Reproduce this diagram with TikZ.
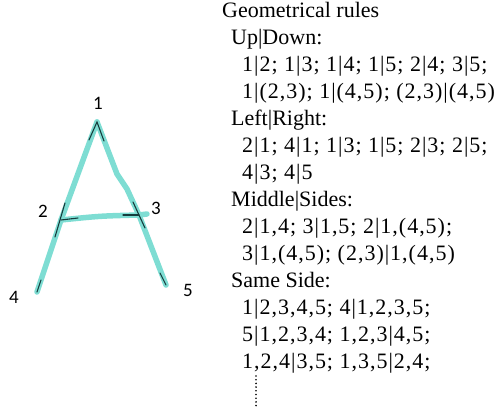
\documentclass[tikz,border=0pt]{standalone}
\usepackage{fontspec}
\setmainfont{Liberation Serif}
\newfontfamily\numfont{Liberation Serif}[LetterSpace=4.5]
\newfontfamily\labfont{Carlito}
\begin{document}
\begin{tikzpicture}[x=1pt,y=-1pt,
  stroke/.style={draw=tealA,line width=5.5pt,line cap=round,line join=round},
  skel/.style={draw=darkA,line width=1.1pt,line cap=round},
  vlab/.style={font=\labfont\fontsize{19}{19}\selectfont,inner sep=0pt},
  rule/.style={font=\fontsize{22}{22}\selectfont,anchor=base west,inner sep=0pt},
  nrule/.style={font=\numfont\fontsize{22}{22}\selectfont,anchor=base west,inner sep=0pt}]
\definecolor{tealA}{HTML}{7EDDD3}
\definecolor{darkA}{HTML}{163C3C}
\useasboundingbox (0,0) rectangle (498,411);
% vertices
\coordinate (p1) at (97,122);
\coordinate (p2) at (61,220);
\coordinate (p3) at (139,215);
\coordinate (p4) at (37,292);
\coordinate (p5) at (166,285);
\coordinate (rb) at (117,174);
\coordinate (rc) at (127,189);
\coordinate (cm) at (100,216);
\coordinate (ce) at (147,214);
% teal strokes
\draw[stroke] (p1) -- (p2) -- (p4);
\draw[stroke] (p1) -- (rb) -- (rc) -- (p3) -- (p5);
\draw[stroke] (p2) .. controls (cm) .. (p3) -- (ce);
% dark skeleton ticks
\draw[skel] (89,140) -- (p1) -- (104,141);
\draw[skel] (65,203) -- (55,237);
\draw[skel] (p2) -- (78,218);
\draw[skel] (123,215) -- (p3);
\draw[skel] (133,202) -- (145,228);
\draw[skel] (41,280) -- (p4);
\draw[skel] (160,273) -- (p5);
% vertex labels
\node[vlab] (l1) at (98,103) {1};
\node[vlab] (l2) at (43,211) {2};
\node[vlab] (l3) at (156,208) {3};
\node[vlab] (l4) at (14,297) {4};
\node[vlab] (l5) at (188,290) {5};
% rules text
\node[rule] (t0) at (222,18) {Geometrical rules};
\node[rule] (t1) at (231,45) {Up|Down:};
\node[nrule] (t2) at (242,72) {1|2; 1|3; 1|4; 1|5; 2|4; 3|5;};
\node[nrule] (t3) at (242,99) {1|(2,3); 1|(4,5); (2,3)|(4,5)};
\node[rule] (t4) at (231,126) {Left|Right:};
\node[nrule] (t5) at (242,153) {2|1; 4|1; 1|3; 1|5; 2|3; 2|5;};
\node[nrule] (t6) at (242,180) {4|3; 4|5};
\node[rule] (t7) at (231,207) {Middle|Sides:};
\node[nrule] (t8) at (242,234) {2|1,4; 3|1,5; 2|1,(4,5);};
\node[nrule] (t9) at (242,261) {3|1,(4,5); (2,3)|1,(4,5)};
\node[rule] (t10) at (231,288) {Same Side:};
\node[nrule] (t11) at (242,315) {1|2,3,4,5; 4|1,2,3,5;};
\node[nrule] (t12) at (242,342) {5|1,2,3,4; 1,2,3|4,5;};
\node[nrule] (t13) at (242,369) {1,2,4|3,5; 1,3,5|2,4;};
% vertical dots
\foreach \k in {0,...,8} \fill[black] (256,376+3.7*\k) circle (0.9pt);
\end{tikzpicture}
\end{document}
